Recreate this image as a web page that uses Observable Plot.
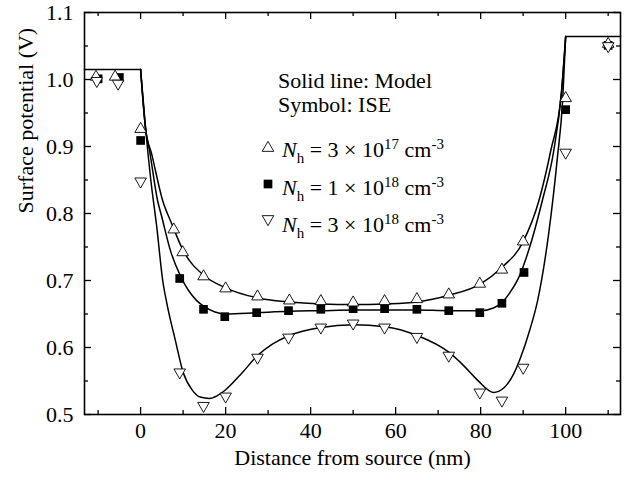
<!DOCTYPE html>
<html>
<head>
<meta charset="utf-8">
<script src="https://cdn.jsdelivr.net/npm/d3@7"></script>
<script src="https://cdn.jsdelivr.net/npm/@observablehq/plot@0.6"></script>
<style>
  html, body { margin: 0; padding: 0; background: #fff; }
  #chart { width: 628px; height: 480px; }
</style>
</head>
<body>
<div id="chart"></div>
<script>
// ---- Data ----
// ISE simulation symbols
const iseX_3e17 = [-10.5, -6, 0, 7.8, 9.9, 14.8, 20, 27.5, 35, 42.4, 50, 57.4, 65, 72.5, 79.8, 85, 90, 100, 110];
const iseY_3e17 = [1.004, 1.004, 0.926, 0.776, 0.742, 0.706, 0.688, 0.676, 0.670, 0.669, 0.667, 0.669, 0.672, 0.679, 0.695, 0.716, 0.758, 0.972, 1.053];

const iseX_1e18 = [-10, -5, 0, 9.2, 14.8, 19.8, 27.3, 34.8, 42.4, 50, 57.4, 65, 72.5, 79.8, 85, 90.2, 100, 110];
const iseY_1e18 = [1.001, 1.003, 0.909, 0.703, 0.657, 0.646, 0.652, 0.655, 0.657, 0.658, 0.658, 0.657, 0.655, 0.652, 0.666, 0.712, 0.955, 1.051];

const iseX_3e18 = [-10.3, -5.3, 0, 9.2, 14.8, 20, 27.5, 34.8, 42.4, 50, 57.4, 65, 72.5, 79.8, 85, 90, 100, 110];
const iseY_3e18 = [0.998, 0.994, 0.848, 0.563, 0.513, 0.527, 0.585, 0.615, 0.630, 0.636, 0.630, 0.616, 0.588, 0.533, 0.521, 0.570, 0.891, 1.050];

// Model curves (solid lines)
const modelX_3e17 = [0, 1.2, 2.6, 5.2, 7.3, 10, 15, 20, 27.5, 35, 42.5, 50, 57.5, 65, 72.5, 80, 84.7, 90, 93.7, 96.5, 99, 100];
const modelY_3e17 = [1.015, 0.925, 0.889, 0.819, 0.785, 0.745, 0.707, 0.689, 0.674, 0.668, 0.665, 0.664, 0.665, 0.668, 0.678, 0.695, 0.718, 0.758, 0.819, 0.894, 0.98, 1.064];

const modelX_1e18 = [0, 1.2, 2.1, 4.0, 4.9, 7, 9.5, 13.2, 15, 17.5, 20, 27.5, 35, 42.5, 50, 57.5, 65, 72.5, 80, 83, 85, 87, 89, 91.3, 94.5, 97.2, 99, 100];
const modelY_1e18 = [1.015, 0.925, 0.894, 0.819, 0.797, 0.745, 0.705, 0.670, 0.661, 0.653, 0.650, 0.652, 0.654, 0.655, 0.656, 0.656, 0.656, 0.655, 0.655, 0.659, 0.667, 0.683, 0.705, 0.745, 0.819, 0.894, 0.98, 1.064];

const modelX_3e18 = [0, 1.2, 2.4, 3.8, 5.2, 6.2, 8.2, 10, 12.2, 14, 16.2, 18, 20, 24, 27.5, 31, 35, 42.5, 50, 57.5, 65, 72.5, 76, 79.3, 83, 85.5, 87.8, 89.4, 91.5, 93.4, 96, 98, 99.3, 100];
const modelY_3e18 = [1.015, 0.925, 0.85, 0.78, 0.70, 0.665, 0.610, 0.563, 0.536, 0.526, 0.524, 0.528, 0.537, 0.563, 0.588, 0.605, 0.618, 0.630, 0.634, 0.631, 0.618, 0.593, 0.573, 0.551, 0.533, 0.540, 0.561, 0.585, 0.625, 0.670, 0.77, 0.88, 0.97, 1.064];

// Flat source / drain parts of the model
const flatLeftX = [-13.2, 0];
const flatLeftY = [1.015, 1.015];
const flatRightX = [100, 112.9];
const flatRightY = [1.064, 1.064];

// Axes
const xDomain = [-13.2, 112.9];
const yDomain = [0.5, 1.1];
const xMajor = [0, 20, 40, 60, 80, 100];
const xMinor = [-10, 10, 30, 50, 70, 90, 110];
const yMajor = [0.5, 0.6, 0.7, 0.8, 0.9, 1.0, 1.1];
const yMinor = [0.55, 0.65, 0.75, 0.85, 0.95, 1.05];

const xTitle = "Distance from source (nm)";
const yTitle = "Surface potential (V)";
const legendHead = ["Solid line: Model", "Symbol: ISE"];
const legendCoef = ["3", "1", "3"];
const legendExp = ["17", "18", "18"];

// ---- Build ----
const pts = (xs, ys) => xs.map((x, i) => ({x, y: ys[i]}));
const W = 628, H = 480, mL = 84, mR = 8, mT = 12, mB = 66;
const pw = W - mL - mR, ph = H - mT - mB;
const FONT = "'Liberation Serif', 'Times New Roman', Times, serif";

const lineOpts = {x: "x", y: "y", stroke: "black", strokeWidth: 1.5};
const triR = 4.3, sqR = 4.9;

const plot = Plot.plot({
  width: W, height: H,
  marginLeft: mL, marginRight: mR, marginTop: mT, marginBottom: mB,
  x: {domain: xDomain},
  y: {domain: yDomain},
  style: {fontFamily: FONT, fontSize: "22px", color: "black", background: "white"},
  marks: [
    // tick labels
    Plot.axisX(xMajor, {anchor: "bottom", tickSize: 0, tickPadding: 8, label: null, fontSize: 22}),
    Plot.axisY(yMajor, {anchor: "left", tickSize: 0, tickPadding: 11, label: null, tickFormat: d3.format(".1f"), fontSize: 22}),
    // inward ticks, all four sides
    Plot.tickX(xMajor, {x: d => d, stroke: "black", strokeWidth: 1.3, insetTop: ph - 7}),
    Plot.tickX(xMinor, {x: d => d, stroke: "black", strokeWidth: 1.3, insetTop: ph - 4}),
    Plot.tickX(xMajor, {x: d => d, stroke: "black", strokeWidth: 1.3, insetBottom: ph - 7}),
    Plot.tickX(xMinor, {x: d => d, stroke: "black", strokeWidth: 1.3, insetBottom: ph - 4}),
    Plot.tickY(yMajor, {y: d => d, stroke: "black", strokeWidth: 1.3, insetRight: pw - 7}),
    Plot.tickY(yMinor, {y: d => d, stroke: "black", strokeWidth: 1.3, insetRight: pw - 4}),
    Plot.tickY(yMajor, {y: d => d, stroke: "black", strokeWidth: 1.3, insetLeft: pw - 7}),
    Plot.tickY(yMinor, {y: d => d, stroke: "black", strokeWidth: 1.3, insetLeft: pw - 4}),
    // model lines
    Plot.line(pts(flatLeftX, flatLeftY), lineOpts),
    Plot.line(pts(flatRightX, flatRightY), lineOpts),
    Plot.line(pts(modelX_3e17, modelY_3e17), {...lineOpts, curve: "monotone-x"}),
    Plot.line(pts(modelX_1e18, modelY_1e18), {...lineOpts, curve: "monotone-x"}),
    Plot.line(pts(modelX_3e18, modelY_3e18), {...lineOpts, curve: "monotone-x"}),
    // ISE symbols (squares underneath the open triangles)
    Plot.dot(pts(iseX_1e18, iseY_1e18), {x: "x", y: "y", symbol: "square", r: sqR, fill: "black", stroke: "none"}),
    Plot.dot(pts(iseX_3e17, iseY_3e17), {x: "x", y: "y", symbol: "triangle", r: triR, fill: "white", stroke: "black", strokeWidth: 0.9}),
    Plot.dot(pts(iseX_3e18, iseY_3e18), {x: "x", y: "y", symbol: "triangle", rotate: 180, r: triR, fill: "white", stroke: "black", strokeWidth: 0.9}),
    // frame
    Plot.frame({stroke: "black", strokeWidth: 1.6}),
    // axis titles
    Plot.text([xTitle], {frameAnchor: "bottom", text: d => d, dy: 50, fontSize: 22}),
    Plot.text([yTitle], {frameAnchor: "left", text: d => d, dx: -59, rotate: -90, fontSize: 22})
  ]
});

document.getElementById("chart").appendChild(plot);

// ---- Legend (in-plot text box) ----
const svg = d3.select(plot);
const lg = svg.append("g")
  .attr("font-family", FONT)
  .attr("fill", "black")
  .style("text-anchor", "start");
lg.append("text").attr("x", 278).attr("y", 88).attr("font-size", 22).text(legendHead[0]);
lg.append("text").attr("x", 278).attr("y", 112).attr("font-size", 22).text(legendHead[1]);

const rowY = [157, 195, 232];
const symY = [148, 184, 219];
const symDefs = [
  {type: d3.symbolTriangle, r: triR, rot: 0, fill: "white", stroke: "black"},
  {type: d3.symbolSquare, r: sqR, rot: 0, fill: "black", stroke: "none"},
  {type: d3.symbolTriangle, r: triR, rot: 180, fill: "white", stroke: "black"}
];
symDefs.forEach((s, i) => {
  lg.append("path")
    .attr("d", d3.symbol(s.type, Math.PI * s.r * s.r)())
    .attr("transform", `translate(268,${symY[i]}) rotate(${s.rot})`)
    .attr("fill", s.fill).attr("stroke", s.stroke).attr("stroke-width", 0.9);
  const t = lg.append("text").attr("x", 282).attr("y", rowY[i]).attr("font-size", 22).style("text-anchor", "start");
  t.append("tspan").attr("font-style", "italic").text("N");
  t.append("tspan").attr("font-size", 15).attr("dy", 6).text("h");
  t.append("tspan").attr("dy", -6).text(` = ${legendCoef[i]} \u00d7 10`);
  t.append("tspan").attr("font-size", 15).attr("dy", -8).text(legendExp[i]);
  t.append("tspan").attr("dy", 8).text(" cm");
  t.append("tspan").attr("font-size", 15).attr("dy", -8).text("-3");
});
</script>
</body>
</html>
